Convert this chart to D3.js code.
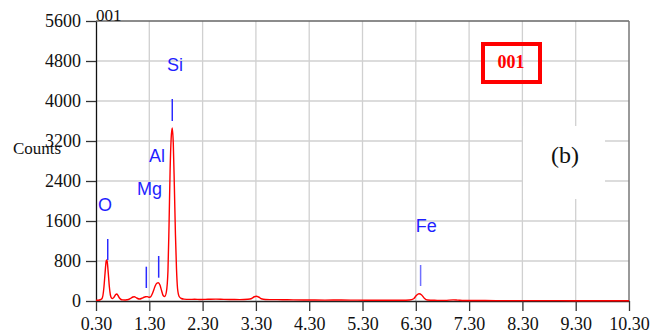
<!DOCTYPE html>
<html>
<head>
<meta charset="utf-8">
<script src="https://cdn.jsdelivr.net/npm/d3@7"></script>
<style>
  html, body { margin: 0; padding: 0; background: #fff; }
  svg { display: block; }
</style>
</head>
<body>
<svg id="chart" width="652" height="333"></svg>
<script>
// EDS spectrum: energy (keV) and counts
const energy = [
  0.30, 0.34, 0.38, 0.41, 0.43, 0.45, 0.47, 0.49, 0.50, 0.51, 0.53, 0.55, 0.57, 0.59, 0.61,
  0.64, 0.67, 0.69, 0.71, 0.74, 0.77, 0.80, 0.84, 0.88, 0.92, 0.96, 0.99, 1.02, 1.05, 1.08,
  1.12, 1.16, 1.20, 1.23, 1.26, 1.29, 1.32, 1.35, 1.38, 1.41, 1.44, 1.47, 1.50, 1.53, 1.56,
  1.59, 1.62, 1.65, 1.67, 1.69, 1.71, 1.73, 1.75, 1.77, 1.79, 1.81, 1.83, 1.86, 1.90, 1.95,
  2.05, 2.15, 2.25, 2.40, 2.55, 2.70, 2.85, 3.00, 3.15, 3.22, 3.27, 3.31, 3.35, 3.40, 3.48,
  3.60, 3.80, 4.00, 4.30, 4.60, 4.90, 5.20, 5.50, 5.80, 6.05, 6.18, 6.26, 6.31, 6.36, 6.41,
  6.46, 6.52, 6.65, 6.85, 7.00, 7.08, 7.20, 7.60, 8.00, 8.50, 9.00, 9.50, 10.00, 10.30
];
const counts = [
  15, 15, 25, 45, 110, 290, 560, 790, 820, 790, 560, 290, 120, 60, 50,
  80, 130, 140, 115, 60, 30, 22, 20, 25, 35, 60, 80, 86, 70, 50,
  40, 55, 75, 85, 88, 75, 80, 130, 210, 300, 355, 366, 320, 210, 110,
  90, 180, 600, 1500, 2600, 3250, 3460, 3150, 2300, 1350, 650, 250, 90, 50, 38,
  32, 35, 30, 34, 38, 32, 30, 28, 34, 50, 85, 95, 80, 45, 30,
  28, 25, 22, 20, 18, 20, 17, 16, 15, 14, 20, 45, 110, 145, 120,
  55, 20, 14, 12, 22, 18, 10, 9, 8, 7, 7, 6, 6, 6
];

// Element line markers (energy, marker low / high in counts)
const elements   = ["O", "Mg", "Al", "Si", "Fe"];
const lineEnergy = [0.52, 1.244, 1.476, 1.731, 6.39];
const markerLow  = [820, 260, 466, 3600, 300];
const markerHigh = [1240, 686, 900, 4040, 720];
// Label anchors (energy, counts) for each element name
const labelEnergy = [0.338, 1.069, 1.294, 1.632, 6.30];
const labelCounts = [1800, 2120, 2780, 4600, 1380];

// Axis ticks
const xTicks = [0.30, 1.30, 2.30, 3.30, 4.30, 5.30, 6.30, 7.30, 8.30, 9.30, 10.30];
const yTicks = [0, 800, 1600, 2400, 3200, 4000, 4800, 5600];

const W = 652, H = 333;
const margin = { top: 21, right: 23, bottom: 32, left: 96 };
const svg = d3.select("#chart");

const x = d3.scaleLinear().domain([0.30, 10.30]).range([margin.left, W - margin.right]);
const y = d3.scaleLinear().domain([0, 5600]).range([H - margin.bottom, margin.top]);

const serif = "'Liberation Serif', 'Times New Roman', serif";
const sans = "'Liberation Sans', Arial, sans-serif";

// Grid
const grid = svg.append("g");
grid.selectAll("line.v").data(xTicks.slice(1, -1)).join("line")
  .attr("x1", d => x(d)).attr("x2", d => x(d))
  .attr("y1", y(5600)).attr("y2", y(0))
  .attr("stroke", "#d0d0d0").attr("stroke-width", 1.3);
grid.selectAll("line.h").data(yTicks.slice(1, -1)).join("line")
  .attr("x1", x(0.30)).attr("x2", x(10.30))
  .attr("y1", d => y(d)).attr("y2", d => y(d))
  .attr("stroke", "#d0d0d0").attr("stroke-width", 1.3);

// Frame: top and right borders
svg.append("line")
  .attr("x1", x(0.30)).attr("x2", x(10.30)).attr("y1", y(5600)).attr("y2", y(5600))
  .attr("stroke", "#666").attr("stroke-width", 1.3);
svg.append("line")
  .attr("x1", x(10.30)).attr("x2", x(10.30)).attr("y1", y(5600)).attr("y2", y(0))
  .attr("stroke", "#777").attr("stroke-width", 1.5);

// White panel behind the "(b)" tag
svg.append("rect")
  .attr("x", 523).attr("y", 126).attr("width", 82).attr("height", 73)
  .attr("fill", "#fff");

// X axis
const xAxis = svg.append("g")
  .attr("transform", `translate(0,${y(0)})`)
  .call(d3.axisBottom(x).tickValues(xTicks).tickFormat(d3.format(".2f"))
    .tickSize(10).tickSizeOuter(0).tickPadding(6));
xAxis.select(".domain").attr("stroke", "#222").attr("stroke-width", 1.3);
xAxis.selectAll(".tick line").attr("stroke", "#333").attr("stroke-width", 1.3);
xAxis.selectAll(".tick text")
  .attr("font-family", serif).attr("font-size", 18).attr("fill", "#111");

// Y axis
const yAxis = svg.append("g")
  .attr("transform", `translate(${x(0.30)},0)`)
  .call(d3.axisLeft(y).tickValues(yTicks).tickFormat(d3.format("d"))
    .tickSize(10).tickSizeOuter(0).tickPadding(5));
yAxis.select(".domain").attr("stroke", "#111").attr("stroke-width", 1.3);
yAxis.selectAll(".tick line").attr("stroke", "#333").attr("stroke-width", 1.3);
yAxis.selectAll(".tick text")
  .attr("font-family", serif).attr("font-size", 18).attr("fill", "#111");

// Spectrum trace
const spectrum = energy.map((e, i) => [e, counts[i]]);
svg.append("path")
  .datum(spectrum)
  .attr("fill", "none")
  .attr("stroke", "#ff0000")
  .attr("stroke-width", 1.4)
  .attr("d", d3.line().x(d => x(d[0])).y(d => y(d[1])).curve(d3.curveMonotoneX));

// Element markers and labels
const marks = elements.map((el, i) => ({
  el, e: lineEnergy[i], lo: markerLow[i], hi: markerHigh[i],
  le: labelEnergy[i], lc: labelCounts[i]
}));
svg.selectAll("line.marker").data(marks).join("line")
  .attr("x1", d => x(d.e)).attr("x2", d => x(d.e))
  .attr("y1", d => y(d.lo)).attr("y2", d => y(d.hi))
  .attr("stroke", d => d.el === "Fe" ? "#7070ff" : "#2a2aff")
  .attr("stroke-width", 1.5);
svg.selectAll("text.el").data(marks).join("text")
  .attr("x", d => x(d.le)).attr("y", d => y(d.lc))
  .attr("font-family", sans).attr("font-size", 18).attr("fill", "#1f1fff")
  .text(d => d.el);

// Axis title and tags
svg.append("text").attr("x", 13).attr("y", 154)
  .attr("font-family", serif).attr("font-size", 17).attr("fill", "#111")
  .text("Counts");
svg.append("text").attr("x", 96).attr("y", 21)
  .attr("font-family", serif).attr("font-size", 17).attr("fill", "#111")
  .text("001");
svg.append("rect")
  .attr("x", 483).attr("y", 44).attr("width", 57).attr("height", 38)
  .attr("fill", "none").attr("stroke", "#ff0000").attr("stroke-width", 4);
svg.append("text").attr("x", 511).attr("y", 68).attr("text-anchor", "middle")
  .attr("font-family", serif).attr("font-size", 18).attr("font-weight", "bold")
  .attr("fill", "#ff0000").text("001");
svg.append("text").attr("x", 565).attr("y", 163).attr("text-anchor", "middle")
  .attr("font-family", serif).attr("font-size", 24).attr("fill", "#111")
  .text("(b)");
</script>
</body>
</html>
